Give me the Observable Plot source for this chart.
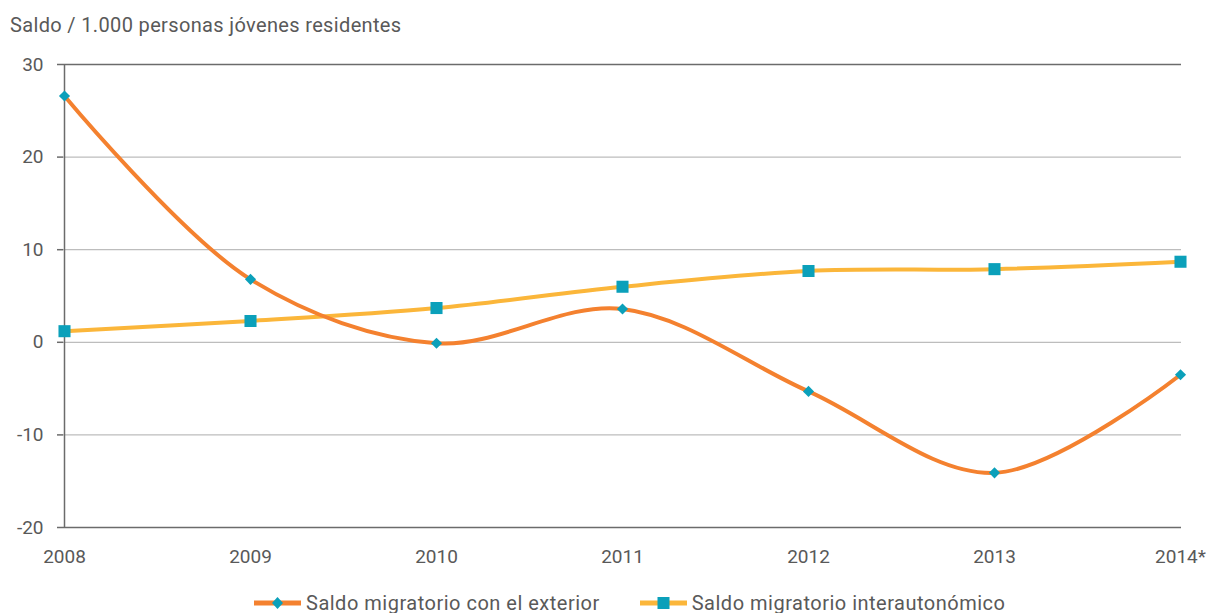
<!DOCTYPE html>
<html>
<head>
<meta charset="utf-8">
<script src="https://cdn.jsdelivr.net/npm/d3@7"></script>
<script src="https://cdn.jsdelivr.net/npm/@observablehq/plot@0.6"></script>
<style>
  html, body { margin: 0; padding: 0; background: #fff; }
  body { width: 1208px; height: 613px; position: relative; overflow: hidden; font-family: Roboto, sans-serif; color: #595959; }
  #title { position: absolute; left: 10px; top: 13px; font-size: 20px; color: #595959; letter-spacing: 0.35px; }
  #chart { position: absolute; left: 0; top: 0; }
  #legend { position: absolute; top: 591px; left: 254px; font-size: 20px; letter-spacing: 0.5px; color: #595959; display: flex; align-items: center; white-space: nowrap; }
  .item { display: flex; align-items: center; }
  .item svg { margin-right: 5px; }
</style>
</head>
<body>
<div id="title">Saldo / 1.000 personas jóvenes residentes</div>
<div id="chart"></div>
<div id="legend"></div>
<script>
const years = ["2008", "2009", "2010", "2011", "2012", "2013", "2014*"];
const exterior = [26.6, 6.8, -0.1, 3.6, -5.3, -14.1, -3.5];
const interautonomico = [1.2, 2.3, 3.7, 6.0, 7.7, 7.9, 8.7];
const seriesNames = ["Saldo migratorio con el exterior", "Saldo migratorio interautonómico"];
const yTicks = [-20, -10, 0, 10, 20, 30];

const colOrange = "#f4812f";
const colYellow = "#fbb63a";
const colTeal = "#0ba0ba";

const dExt = years.map((y, i) => ({year: y, value: exterior[i]}));
const dInt = years.map((y, i) => ({year: y, value: interautonomico[i]}));

const plot = Plot.plot({
  width: 1208,
  height: 613,
  marginTop: 64,
  marginBottom: 86,
  marginLeft: 63,
  marginRight: 27,
  style: {fontFamily: "Roboto, sans-serif", fontSize: "19px", color: "#595959", background: "transparent"},
  x: {type: "point", domain: years, padding: 0, label: null},
  y: {domain: [-20, 30], label: null},
  marks: [
    Plot.ruleY([-10, 0, 10, 20], {stroke: "#bdbdbd", strokeWidth: 1.2}),
    Plot.ruleY([30], {stroke: "#6b6b6b", strokeWidth: 1.5}),
    Plot.axisY({ticks: yTicks, tickFormat: d => String(d), tickSize: 6, tickPadding: 14, stroke: "#6b6b6b", strokeWidth: 1.5, fill: "#595959", fontSize: 19, label: null}),
    Plot.axisX({tickSize: 0, tickPadding: 22, fill: "#595959", fontSize: 19, label: null}),
    Plot.ruleX([years[0]], {stroke: "#6b6b6b", strokeWidth: 1.5}),
    Plot.ruleY([-20], {stroke: "#6b6b6b", strokeWidth: 1.5}),
    Plot.line(dInt, {x: "year", y: "value", stroke: colYellow, strokeWidth: 4, curve: "catmull-rom"}),
    Plot.line(dExt, {x: "year", y: "value", stroke: colOrange, strokeWidth: 4, curve: "catmull-rom"}),
    Plot.dot(dInt, {x: "year", y: "value", symbol: "square", fill: colTeal, r: 6.8}),
    Plot.dot(dExt, {x: "year", y: "value", symbol: "diamond2", fill: colTeal, r: 5})
  ]
});
document.getElementById("chart").appendChild(plot);

// legend
const legend = d3.select("#legend");
const legendDefs = [
  {name: seriesNames[0], color: colOrange, symbol: "diamond"},
  {name: seriesNames[1], color: colYellow, symbol: "square"}
];
legendDefs.forEach((d, i) => {
  const item = legend.append("div").attr("class", "item").style("margin-right", i === 0 ? "40px" : "0");
  const s = item.append("svg").attr("width", 47).attr("height", 16);
  s.append("line").attr("x1", 0).attr("x2", 47).attr("y1", 8).attr("y2", 8).attr("stroke", d.color).attr("stroke-width", 5);
  if (d.symbol === "diamond") {
    s.append("path").attr("d", "M23.5,2L29,8L23.5,14L18,8Z").attr("fill", colTeal);
  } else {
    s.append("rect").attr("x", 17.5).attr("y", 2).attr("width", 12).attr("height", 12).attr("fill", colTeal);
  }
  item.append("span").text(d.name);
});
</script>
</body>
</html>
